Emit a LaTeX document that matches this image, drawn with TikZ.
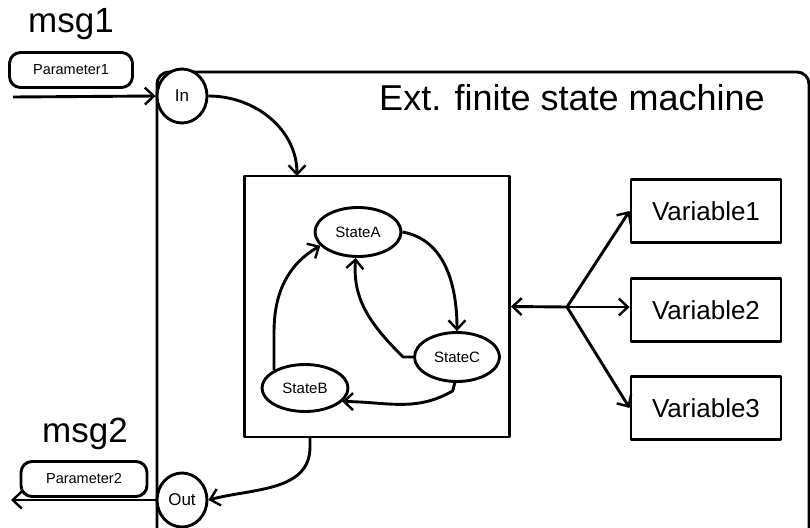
\documentclass[tikz,border=0pt]{standalone}
\usepackage{fontspec}
\setmainfont{Liberation Sans}
\usetikzlibrary{arrows.meta,shapes.geometric}
\begin{document}
\begin{tikzpicture}[x=1pt,y=-1pt,
  line width=2.9pt, line join=round,
  tip/.style={-{Straight Barb[length=9pt,width=17pt,line width=2.4pt]}},
  statenode/.style={ellipse,draw,fill=white,inner sep=0pt,
    minimum width=86pt,minimum height=49pt,font=\fontsize{15}{15}\selectfont},
  portnode/.style={ellipse,draw,fill=white,inner sep=0pt,minimum width=50pt,
    minimum height=54pt,font=\fontsize{17}{17}\selectfont},
  parambox/.style={draw,rounded corners=11pt,inner sep=0pt,minimum height=35pt,
    font=\fontsize{14.5}{14.5}\selectfont},
  varbox/.style={draw,inner sep=0pt,minimum width=150pt,minimum height=63pt,
    font=\fontsize{26}{26}\selectfont},
  bigtext/.style={inner sep=0pt,anchor=base}
]
\useasboundingbox (0,0) rectangle (810,527);
\clip (0,0) rectangle (810,527);

% outer machine frame (runs off the right and bottom edges)
\draw[rounded corners=12pt] (157,540) -- (157,72) -- (809,72) -- (809,540);

\node[bigtext,font=\fontsize{36}{36}\selectfont] (title) at (572,110) {Ext. finite state machine};

% messages
\node[bigtext,font=\fontsize{35}{35}\selectfont] (msg1) at (71,33) {msg1};
\node[bigtext,font=\fontsize{35}{35}\selectfont] (msg2) at (85,442) {msg2};
\node[parambox,minimum width=123pt] (p1) at (71,70) {Parameter1};
\node[parambox,minimum width=126pt] (p2) at (84,479) {Parameter2};

% ports
\node[portnode] (in) at (182,96) {In};
\node[portnode] (out) at (182,500) {Out};
\coordinate (srcIn) at (13,97);
\coordinate (dstOut) at (11,500);
\draw[tip] (srcIn) -- (in.west);
\draw[tip] (out.west) -- (dstOut);

% state machine block
\node[draw,minimum width=265pt,minimum height=261pt,inner sep=0pt] (fsm) at (377,306.5) {};
\coordinate (fsmIn) at (297,176);
\coordinate (fsmOut) at (310,437);
\draw[tip] (in.east) to[out=0,in=90] (fsmIn);
\draw[tip] (fsmOut) -- (310,447) to[out=-90,in=15] (out.east);

% states
\node[statenode] (A) at (358,232) {StateA};
\node[statenode,minimum width=85pt] (C) at (457,357) {StateC};
\node[statenode,minimum width=86pt,minimum height=47pt] (B) at (305,388) {StateB};

\draw[tip] (B.150) -- ++(0,-38) to[out=90,in=210] (A.200);
\draw[tip] (A.east) to[out=-10,in=90] (C.north);
\draw[tip] (C.west) -- ++(-10,0) to[out=135,in=-95] (A.265);
\draw[tip] (C.-95) -- ++(-2,8) to[out=-150,in=0] (B.-20);

% variables
\node[varbox] (v1) at (706,211) {Variable1};
\node[varbox] (v2) at (706,310) {Variable2};
\node[varbox] (v3) at (706,408) {Variable3};
\coordinate (hub) at (567,307);
\draw[tip] (hub) -- (fsm.east);
\draw[tip] (hub) -- (v1.west);
\draw[tip] (hub) -- (v2.west |- hub);
\draw[tip] (hub) -- (v3.west);
\end{tikzpicture}
\end{document}
